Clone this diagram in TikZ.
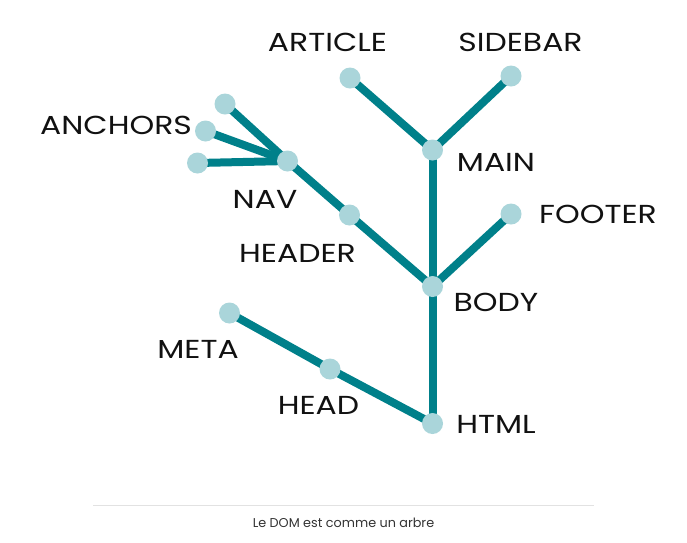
\documentclass[tikz,border=0pt]{standalone}
\usepackage{fontspec}
\setmainfont{Poppins}
\newfontfamily\widefont[FakeStretch=1.21]{Poppins}
\definecolor{branch}{HTML}{00808A}
\definecolor{leaf}{HTML}{AAD5DA}
\definecolor{txt}{HTML}{111111}
\definecolor{cap}{HTML}{333333}
\definecolor{rule}{HTML}{E2E2E2}
\begin{document}
\begin{tikzpicture}[x=1pt,y=-1pt,
  dot/.style={circle,fill=leaf,inner sep=0pt,minimum size=21pt},
  edge/.style={draw=branch,line width=8pt},
  lbl/.style={text=txt,font=\widefont\fontsize{26}{28}\selectfont,inner sep=0pt,anchor=center}]
\useasboundingbox (0,0) rectangle (687,542);
% nodes positions
\coordinate (html) at (432.5,423.5);
\coordinate (body) at (432.5,286.5);
\coordinate (main) at (432.5,150);
\coordinate (article) at (350,78);
\coordinate (sidebar) at (511,76);
\coordinate (footer) at (511,214);
\coordinate (header) at (349.5,215);
\coordinate (nav) at (287.5,161);
\coordinate (a1) at (225,104);
\coordinate (a2) at (205.5,131);
\coordinate (a3) at (197.5,163);
\coordinate (head) at (330,369);
\coordinate (meta) at (229.5,313);
% edges
\draw[edge] (html) -- (body);
\draw[edge] (body) -- (main);
\draw[edge] (main) -- (article);
\draw[edge] (main) -- (sidebar);
\draw[edge] (body) -- (footer);
\draw[edge] (body) -- (header);
\draw[edge] (header) -- (nav);
\draw[edge] (nav) -- (a1);
\draw[edge] (nav) -- (a2);
\draw[edge] (nav) -- (a3);
\draw[edge] (html) -- (head);
\draw[edge] (head) -- (meta);
% dots
\foreach \p in {html,body,main,article,sidebar,footer,header,nav,a1,a2,a3,head,meta}
  \node[dot] (d-\p) at (\p) {};
% labels
\node[lbl] (l-article) at (327.5,42.5) {ARTICLE};
\node[lbl] (l-sidebar) at (520.5,42.5) {SIDEBAR};
\node[lbl] (l-anchors) at (116,125) {ANCHORS};
\node[lbl] (l-nav) at (265,199.5) {NAV};
\node[lbl] (l-main) at (496,162) {MAIN};
\node[lbl] (l-footer) at (598,214) {FOOTER};
\node[lbl] (l-header) at (297.5,253) {HEADER};
\node[lbl] (l-body) at (496,302) {BODY};
\node[lbl] (l-meta) at (198,349) {META};
\node[lbl] (l-head) at (318.5,405) {HEAD};
\node[lbl] (l-html) at (496,424) {HTML};
% caption
\coordinate (r1) at (93,505);
\coordinate (r2) at (594,505);
\draw[rule,line width=0.8pt] (r1) -- (r2);
\node[text=cap,font=\fontsize{12.8}{14}\selectfont,inner sep=0pt] (caption) at (343.5,523) {Le DOM est comme un arbre};
\end{tikzpicture}
\end{document}
